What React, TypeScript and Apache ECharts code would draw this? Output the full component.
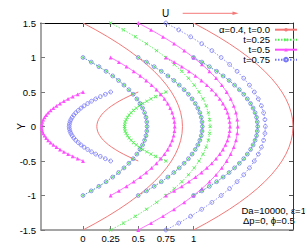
import React, { useEffect, useRef } from "react";
import * as echarts from "echarts";

// y positions of points along each curve (shared by curves of the same height)
const Y_LARGE = [1.5, 1.4, 1.3, 1.2, 1.1, 1.0, 0.9, 0.8, 0.7, 0.6, 0.5, 0.4, 0.3, 0.2, 0.1, 0, -0.1, -0.2, -0.3, -0.4, -0.5, -0.6, -0.7, -0.8, -0.9, -1.0, -1.1, -1.2, -1.3, -1.4, -1.5];
const Y_MEDIUM = [1, 0.933, 0.867, 0.8, 0.733, 0.667, 0.6, 0.533, 0.467, 0.4, 0.333, 0.267, 0.2, 0.133, 0.067, 0, -0.067, -0.133, -0.2, -0.267, -0.333, -0.4, -0.467, -0.533, -0.6, -0.667, -0.733, -0.8, -0.867, -0.933, -1];
const Y_SMALL = [0.5, 0.467, 0.433, 0.4, 0.367, 0.333, 0.3, 0.267, 0.233, 0.2, 0.167, 0.133, 0.1, 0.067, 0.033, 0, -0.033, -0.067, -0.1, -0.133, -0.167, -0.2, -0.233, -0.267, -0.3, -0.333, -0.367, -0.4, -0.433, -0.467, -0.5];

// t = 0.0 (red)
const RED_LARGE_A = [0, 0.116, 0.224, 0.324, 0.416, 0.5, 0.576, 0.644, 0.704, 0.756, 0.8, 0.836, 0.864, 0.884, 0.896, 0.9, 0.896, 0.884, 0.864, 0.836, 0.8, 0.756, 0.704, 0.644, 0.576, 0.5, 0.416, 0.324, 0.224, 0.116, 0];
const RED_LARGE_B = [1, 1.116, 1.224, 1.324, 1.416, 1.5, 1.576, 1.644, 1.704, 1.756, 1.8, 1.836, 1.864, 1.884, 1.896, 1.9, 1.896, 1.884, 1.864, 1.836, 1.8, 1.756, 1.704, 1.644, 1.576, 1.5, 1.416, 1.324, 1.224, 1.116, 1];
const RED_SMALL = [0.5, 0.452, 0.407, 0.365, 0.327, 0.292, 0.26, 0.232, 0.207, 0.185, 0.167, 0.152, 0.14, 0.132, 0.127, 0.125, 0.127, 0.132, 0.14, 0.152, 0.167, 0.185, 0.207, 0.232, 0.26, 0.292, 0.327, 0.365, 0.407, 0.452, 0.5];

// t = 0.25 (green) and t = 0.75 (blue) share the medium curves
const MED_A = [0, 0.075, 0.144, 0.209, 0.268, 0.322, 0.371, 0.415, 0.454, 0.487, 0.516, 0.539, 0.557, 0.57, 0.577, 0.58, 0.577, 0.57, 0.557, 0.539, 0.516, 0.487, 0.454, 0.415, 0.371, 0.322, 0.268, 0.209, 0.144, 0.075, 0];
const MED_B = [0.5, 0.575, 0.644, 0.709, 0.768, 0.822, 0.871, 0.915, 0.954, 0.987, 1.016, 1.039, 1.057, 1.07, 1.077, 1.08, 1.077, 1.07, 1.057, 1.039, 1.016, 0.987, 0.954, 0.915, 0.871, 0.822, 0.768, 0.709, 0.644, 0.575, 0.5];
const MED_C = [1, 1.075, 1.144, 1.209, 1.268, 1.322, 1.371, 1.415, 1.454, 1.487, 1.516, 1.539, 1.557, 1.57, 1.577, 1.58, 1.577, 1.57, 1.557, 1.539, 1.516, 1.487, 1.454, 1.415, 1.371, 1.322, 1.268, 1.209, 1.144, 1.075, 1];

const GREEN_LARGE = [0.25, 0.366, 0.474, 0.574, 0.666, 0.75, 0.826, 0.894, 0.954, 1.006, 1.05, 1.086, 1.114, 1.134, 1.146, 1.15, 1.146, 1.134, 1.114, 1.086, 1.05, 1.006, 0.954, 0.894, 0.826, 0.75, 0.666, 0.574, 0.474, 0.366, 0.25];
const GREEN_SMALL = [0.75, 0.702, 0.657, 0.615, 0.577, 0.542, 0.51, 0.482, 0.457, 0.435, 0.417, 0.402, 0.39, 0.382, 0.377, 0.375, 0.377, 0.382, 0.39, 0.402, 0.417, 0.435, 0.457, 0.482, 0.51, 0.542, 0.577, 0.615, 0.657, 0.702, 0.75];

// t = 0.5 (magenta)
const MAG_LARGE = [0.5, 0.616, 0.724, 0.824, 0.916, 1, 1.076, 1.144, 1.204, 1.256, 1.3, 1.336, 1.364, 1.384, 1.396, 1.4, 1.396, 1.384, 1.364, 1.336, 1.3, 1.256, 1.204, 1.144, 1.076, 1, 0.916, 0.824, 0.724, 0.616, 0.5];
const MAG_MED_A = [0.25, 0.325, 0.394, 0.459, 0.518, 0.572, 0.621, 0.665, 0.704, 0.737, 0.766, 0.789, 0.807, 0.82, 0.827, 0.83, 0.827, 0.82, 0.807, 0.789, 0.766, 0.737, 0.704, 0.665, 0.621, 0.572, 0.518, 0.459, 0.394, 0.325, 0.25];
const MAG_MED_B = [0.75, 0.825, 0.894, 0.959, 1.018, 1.072, 1.121, 1.165, 1.204, 1.237, 1.266, 1.289, 1.307, 1.32, 1.327, 1.33, 1.327, 1.32, 1.307, 1.289, 1.266, 1.237, 1.204, 1.165, 1.121, 1.072, 1.018, 0.959, 0.894, 0.825, 0.75];
const MAG_SMALL = [0, -0.048, -0.093, -0.135, -0.173, -0.208, -0.24, -0.268, -0.293, -0.315, -0.333, -0.348, -0.36, -0.368, -0.373, -0.375, -0.373, -0.368, -0.36, -0.348, -0.333, -0.315, -0.293, -0.268, -0.24, -0.208, -0.173, -0.135, -0.093, -0.048, 0];

// t = 0.75 (blue)
const BLUE_LARGE = [0.75, 0.866, 0.974, 1.074, 1.166, 1.25, 1.326, 1.394, 1.454, 1.506, 1.55, 1.586, 1.614, 1.634, 1.646, 1.65, 1.646, 1.634, 1.614, 1.586, 1.55, 1.506, 1.454, 1.394, 1.326, 1.25, 1.166, 1.074, 0.974, 0.866, 0.75];
const BLUE_SMALL = [0.25, 0.202, 0.157, 0.115, 0.077, 0.042, 0.01, -0.018, -0.043, -0.065, -0.083, -0.098, -0.11, -0.118, -0.123, -0.125, -0.123, -0.118, -0.11, -0.098, -0.083, -0.065, -0.043, -0.018, 0.01, 0.042, 0.077, 0.115, 0.157, 0.202, 0.25];

const SERIES_NAMES = ["α=0.4, t=0.0", "t=0.25", "t=0.5", "t=0.75"];
const X_TICKS = [0, 0.25, 0.5, 0.75, 1];

const RED = "#f47878";
const GREEN = "#4aee4a";
const MAGENTA = "#ff50ff";
const BLUE = "#7676f8";
const FONT = "'Liberation Sans Narrow', 'Liberation Sans', Arial, sans-serif";
const X_PATH = "path://M0,1.2L1.2,0L5,3.8L8.8,0L10,1.2L6.2,5L10,8.8L8.8,10L5,6.2L1.2,10L0,8.8L3.8,5Z";

function pairs(xs: number[], ys: number[]) {
  return xs.map((x, i) => [x, ys[i]]);
}

function redSeries(xs: number[], ys: number[]) {
  return {
    type: "line",
    name: SERIES_NAMES[0],
    data: pairs(xs, ys),
    symbol: "none",
    lineStyle: { color: RED, width: 1 },
    itemStyle: { color: RED },
  };
}
function greenSeries(xs: number[], ys: number[]) {
  return {
    type: "line",
    name: SERIES_NAMES[1],
    data: pairs(xs, ys),
    symbol: X_PATH,
    symbolSize: 3.6,
    lineStyle: { color: GREEN, width: 0.8, type: [1.5, 1.5] },
    itemStyle: { color: GREEN },
  };
}
function magentaSeries(xs: number[], ys: number[]) {
  return {
    type: "line",
    name: SERIES_NAMES[2],
    data: pairs(xs, ys),
    symbol: "triangle",
    symbolSize: 3.8,
    lineStyle: { color: MAGENTA, width: 0.8 },
    itemStyle: { color: MAGENTA },
  };
}
function blueSeries(xs: number[], ys: number[]) {
  return {
    type: "line",
    name: SERIES_NAMES[3],
    data: pairs(xs, ys),
    symbol: "circle",
    symbolSize: 3.8,
    lineStyle: { color: BLUE, width: 0.8, type: [1.5, 1.5] },
    itemStyle: { color: "rgba(255,255,255,0)", borderColor: BLUE, borderWidth: 0.8 },
  };
}

export default function App() {
  const ref = useRef<HTMLDivElement>(null);
  useEffect(() => {
    if (!ref.current) return;
    const chart = echarts.init(ref.current, null, { renderer: "svg" });
    const labelStyle = { fontSize: 9.5, fontFamily: FONT, color: "#000" };
    const option: any = {
      animation: false,
      backgroundColor: "#fff",
      grid: { left: 41, right: 12, top: 23, bottom: 19 },
      xAxis: [
        {
          type: "value",
          position: "bottom",
          min: -0.38,
          max: 1.9,
          axisLine: { show: true, onZero: false, lineStyle: { color: "#888", width: 1.5 } },
          axisTick: { show: true, inside: true, length: 4, customValues: X_TICKS, lineStyle: { color: "#777" } },
          axisLabel: { ...labelStyle, customValues: X_TICKS, margin: 3 },
          splitLine: { show: false },
        },
        {
          type: "value",
          position: "top",
          min: -0.38,
          max: 1.9,
          axisLine: { show: true, onZero: false, lineStyle: { color: "#000", width: 1 } },
          axisTick: { show: true, inside: true, length: 4, customValues: X_TICKS, lineStyle: { color: "#555" } },
          axisLabel: { show: false },
          splitLine: { show: false },
        },
      ],
      yAxis: [
        {
          type: "value",
          position: "left",
          min: -1.5,
          max: 1.5,
          interval: 0.5,
          axisLine: { show: true, onZero: false, lineStyle: { color: "#888", width: 1.5 } },
          axisTick: { show: true, inside: true, length: 4, lineStyle: { color: "#777" } },
          axisLabel: { ...labelStyle, margin: 5 },
          splitLine: { show: false },
        },
        {
          type: "value",
          position: "right",
          min: -1.5,
          max: 1.5,
          interval: 0.5,
          axisLine: { show: true, onZero: false, lineStyle: { color: "#333", width: 1 } },
          axisTick: { show: true, inside: true, length: 4, lineStyle: { color: "#555" } },
          axisLabel: { show: false },
          splitLine: { show: false },
        },
      ],
      legend: {
        data: SERIES_NAMES,
        orient: "vertical",
        right: 7,
        top: 24.7,
        padding: 0,
        align: "right",
        itemWidth: 22,
        itemHeight: 4.5,
        itemGap: 0,
        selectedMode: false,
        textStyle: { ...labelStyle, lineHeight: 9.3, padding: 0 },
      },
      graphic: [
        { type: "text", x: 165.5, y: 13.3, style: { text: "U", fontSize: 10, fontFamily: FONT, fill: "#000", align: "center", verticalAlign: "middle" } },
        { type: "line", shape: { x1: 182.7, y1: 13.3, x2: 235, y2: 13.3 }, style: { stroke: RED, lineWidth: 1 } },
        { type: "polygon", shape: { points: [[238.5, 13.3], [232.5, 11.5], [232.5, 15.1]] }, style: { fill: RED } },
        { type: "text", x: 21.7, y: 126.5, rotation: Math.PI / 2, style: { text: "Y", fontSize: 10, fontFamily: FONT, fill: "#000", align: "center", verticalAlign: "middle" } },
        { type: "text", x: 241.5, y: 210, style: { text: "Da=10000, ε=1", fontSize: 9.5, fontFamily: FONT, fill: "#000", align: "left", verticalAlign: "middle" } },
        { type: "text", x: 243, y: 220.5, style: { text: "Δp=0, ϕ=0.5", fontSize: 9.5, fontFamily: FONT, fill: "#000", align: "left", verticalAlign: "middle" } },
      ],
      series: [
        redSeries(RED_LARGE_A, Y_LARGE),
        redSeries(RED_LARGE_B, Y_LARGE),
        redSeries(RED_SMALL, Y_SMALL),
        greenSeries(GREEN_LARGE, Y_LARGE),
        greenSeries(MED_A, Y_MEDIUM),
        greenSeries(MED_B, Y_MEDIUM),
        greenSeries(MED_C, Y_MEDIUM),
        greenSeries(GREEN_SMALL, Y_SMALL),
        magentaSeries(MAG_LARGE, Y_LARGE),
        magentaSeries(MAG_MED_A, Y_MEDIUM),
        magentaSeries(MAG_MED_B, Y_MEDIUM),
        magentaSeries(MAG_SMALL, Y_SMALL),
        blueSeries(BLUE_LARGE, Y_LARGE),
        blueSeries(MED_A, Y_MEDIUM),
        blueSeries(MED_B, Y_MEDIUM),
        blueSeries(MED_C, Y_MEDIUM),
        blueSeries(BLUE_SMALL, Y_SMALL),
      ],
    };
    chart.setOption(option);
    return () => chart.dispose();
  }, []);
  return <div ref={ref} style={{ position: "fixed", left: 0, top: 0, width: 305, height: 249 }} />;
}
